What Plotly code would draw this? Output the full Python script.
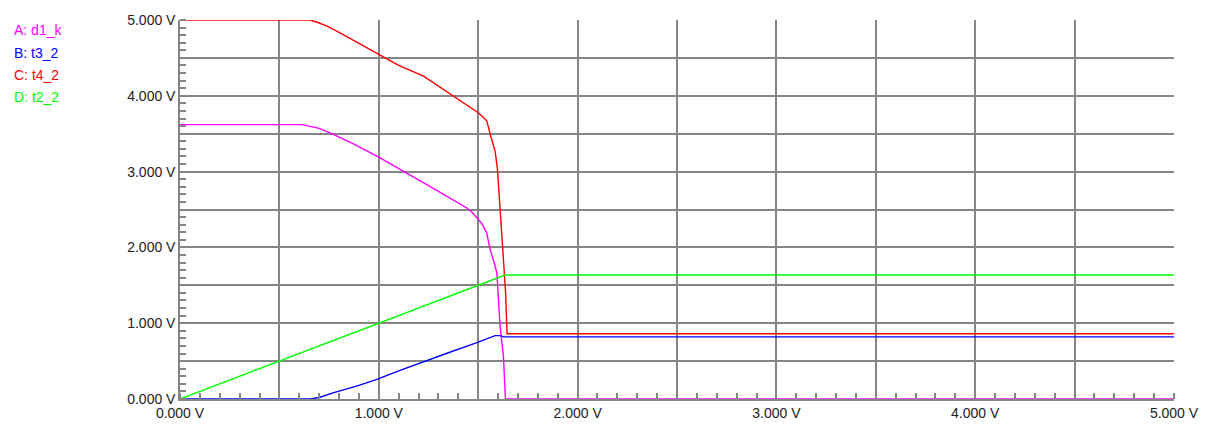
import plotly.graph_objects as go

# ---- data ----
a_x = [0.0, 0.612, 0.65, 0.70, 0.755, 0.87, 0.993, 1.124, 1.2, 1.3, 1.4, 1.443, 1.47, 1.493, 1.52, 1.543, 1.56, 1.58, 1.594, 1.61, 1.627, 1.637, 1.65, 5.0]
a_y = [3.62, 3.62, 3.60, 3.57, 3.51, 3.37, 3.20, 3.01, 2.89, 2.74, 2.59, 2.52, 2.46, 2.39, 2.31, 2.19, 1.97, 1.80, 1.66, 0.96, 0.56, 0.0, 0.0, 0.0]

b_x = [0.0, 0.654, 0.7, 0.77, 0.9, 0.99, 1.1, 1.24, 1.35, 1.49, 1.55, 1.585, 1.61, 1.63, 5.0]
b_y = [0.0, 0.0, 0.02, 0.08, 0.18, 0.26, 0.37, 0.51, 0.61, 0.74, 0.80, 0.836, 0.836, 0.82, 0.82]

c_x = [0.0, 0.654, 0.69, 0.74, 0.805, 0.9, 0.993, 1.1, 1.225, 1.3, 1.375, 1.45, 1.493, 1.52, 1.543, 1.565, 1.585, 1.597, 1.61, 1.623, 1.631, 1.638, 1.645, 5.0]
c_y = [5.0, 5.0, 4.97, 4.92, 4.83, 4.69, 4.55, 4.40, 4.26, 4.13, 3.99, 3.87, 3.79, 3.73, 3.67, 3.45, 3.27, 3.03, 2.46, 1.93, 1.66, 1.40, 0.86, 0.86]

d_x = [0.0, 1.636, 5.0]
d_y = [0.0, 1.636, 1.636]

series_names = ["A: d1_k", "B: t3_2", "C: t4_2", "D: t2_2"]
series_colors = ["#FF00FF", "#0000FF", "#FF0000", "#00FF00"]

tick_vals = [0, 0.5, 1, 1.5, 2, 2.5, 3, 3.5, 4, 4.5, 5]
tick_text = ["0.000 V", "", "1.000 V", "", "2.000 V", "", "3.000 V", "", "4.000 V", "", "5.000 V"]
int_ticks = [0, 1, 2, 3, 4, 5]

fig = go.Figure()
for xs, ys, name, col in zip([a_x, b_x, c_x, d_x], [a_y, b_y, c_y, d_y], series_names, series_colors):
    fig.add_trace(go.Scatter(x=xs, y=ys, mode="lines", name=name,
                             line=dict(color=col, width=1.4), showlegend=False))

grid_col = "#858585"
fam = "Liberation Sans, Arial, sans-serif"
font = dict(family=fam, size=14, color="#222")

fig.update_layout(
    width=1213, height=429,
    margin=dict(l=172, r=47, t=12, b=38),
    paper_bgcolor="white", plot_bgcolor="white",
    font=font,
    xaxis=dict(range=[0, 5], tickvals=tick_vals, ticktext=tick_text, automargin=False,
               showgrid=True, gridcolor=grid_col, gridwidth=1.5,
               showline=True, linecolor=grid_col, linewidth=1.5,
               ticks="", zeroline=False,
               minor=dict(dtick=0.1, ticks="inside", ticklen=6, tickcolor=grid_col,
                          tickwidth=1.5, showgrid=False)),
    yaxis=dict(range=[0, 5], tickvals=tick_vals, ticktext=tick_text, automargin=False,
               showgrid=True, gridcolor=grid_col, gridwidth=1.5,
               showline=True, linecolor=grid_col, linewidth=1.5,
               ticks="", zeroline=False,
               minor=dict(dtick=0.1, ticks="inside", ticklen=6, tickcolor=grid_col,
                          tickwidth=1.5, showgrid=False)),
    xaxis2=dict(range=[0, 5], overlaying="x", anchor="y", side="bottom", automargin=False,
                tickvals=int_ticks, ticks="outside", ticklen=8, tickwidth=1.5,
                tickcolor=grid_col, showticklabels=False, showgrid=False,
                zeroline=False, showline=False),
)

# legend text positions (paper coords over the plot area)
legend_y = [0.9736, 0.913, 0.855, 0.798]
for name, col, yy in zip(series_names, series_colors, legend_y):
    fig.add_annotation(text=name, xref="paper", yref="paper", x=-0.169, y=yy,
                       xanchor="left", yanchor="middle", showarrow=False,
                       font=dict(family=fam, size=14, color=col))

fig.write_html("out.html")
